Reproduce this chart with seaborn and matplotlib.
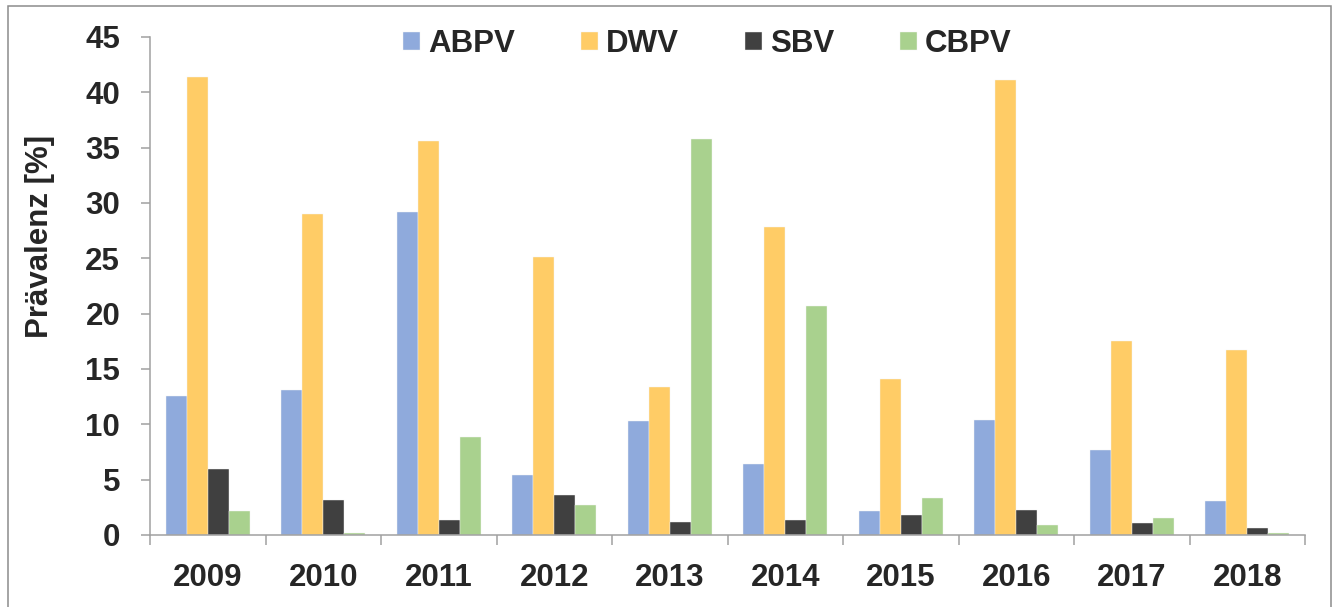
"""Virus prevalence per year, grouped bars."""

import matplotlib
matplotlib.use("Agg")
import matplotlib.pyplot as plt
import numpy as np
import pandas as pd
import seaborn as sns
from matplotlib.patches import Rectangle

# ---------------------------------------------------------------------------
# Data
# ---------------------------------------------------------------------------
years = ["2009", "2010", "2011", "2012", "2013", "2014", "2015", "2016", "2017", "2018"]
viruses = ["ABPV", "DWV", "SBV", "CBPV"]
abpv = [12.6, 13.1, 29.2, 5.4, 10.3, 6.4, 2.2, 10.4, 7.7, 3.1]
dwv = [41.4, 29.0, 35.6, 25.1, 13.4, 27.8, 14.1, 41.1, 17.5, 16.7]
sbv = [6.0, 3.2, 1.4, 3.6, 1.2, 1.4, 1.8, 2.3, 1.1, 0.6]
cbpv = [2.2, 0.2, 8.9, 2.7, 35.8, 20.7, 3.3, 0.9, 1.5, 0.2]
y_ticks = [0, 5, 10, 15, 20, 25, 30, 35, 40, 45]
y_label = "Prävalenz [%]"

colors = ["#8FAADC", "#FFCC66", "#404040", "#A9D18E"]

df = pd.DataFrame({
    "year": years * 4,
    "virus": np.repeat(viruses, len(years)),
    "value": abpv + dwv + sbv + cbpv,
})

# ---------------------------------------------------------------------------
# Style
# ---------------------------------------------------------------------------
sns.set_style("white")
plt.rcParams["font.family"] = ["Liberation Sans", "DejaVu Sans"]
plt.rcParams["font.weight"] = "bold"
FS = 22.5
GRAY = "#A0A0A0"

W, H = 1335, 607
fig = plt.figure(figsize=(W / 100, H / 100), dpi=100)
ax = fig.add_axes([150 / W, 1 - 535 / H, (1305 - 150) / W, (535 - 37) / H])

sns.barplot(data=df, x="year", y="value", hue="virus", hue_order=viruses,
            order=years, palette=colors, width=0.73, saturation=1,
            edgecolor="#F4F4F4", linewidth=0.3, ax=ax)

ax.set_xlim(-0.5, len(years) - 0.5)
ax.set_ylim(0, 45)
ax.set_yticks(y_ticks)
ax.set_xlabel("")
ax.set_ylabel("")

for side in ("top", "right"):
    ax.spines[side].set_visible(False)
for side in ("left", "bottom"):
    ax.spines[side].set_color(GRAY)
    ax.spines[side].set_linewidth(1.1)

ax.tick_params(axis="y", which="major", direction="out", length=6.5,
               width=1.1, color=GRAY, pad=15, labelsize=FS, left=True)
ax.tick_params(axis="x", which="major", length=0, pad=20, labelsize=FS)
ax.set_xticks(np.arange(-0.5, len(years)), minor=True)
ax.tick_params(axis="x", which="minor", direction="out", length=7.5,
               width=1.1, color=GRAY, bottom=True)
for lbl in ax.get_xticklabels() + ax.get_yticklabels():
    lbl.set_fontweight("bold")

fig.text(40 / W, 1 - 236 / H, y_label, rotation=90, ha="center", va="center",
         fontsize=FS, fontweight="bold")

handles, labels = ax.get_legend_handles_labels()
ax.get_legend().remove()
fig.legend(handles, labels, loc="center left",
           bbox_to_anchor=(403 / W, 1 - 44 / H), ncol=4, frameon=False,
           handlelength=0.55, handleheight=0.55,
           handletextpad=0.26, columnspacing=2.1, borderpad=0,
           borderaxespad=0, prop={"weight": "bold", "size": FS})

# outer frame around the chart
fig.patches.append(Rectangle((8 / W, -0.01), (1331 - 8) / W, 1 - 6 / H + 0.01,
                             transform=fig.transFigure, fill=False,
                             edgecolor="#8C8C8C", linewidth=1.1))

fig.savefig("out.png", dpi=100)
